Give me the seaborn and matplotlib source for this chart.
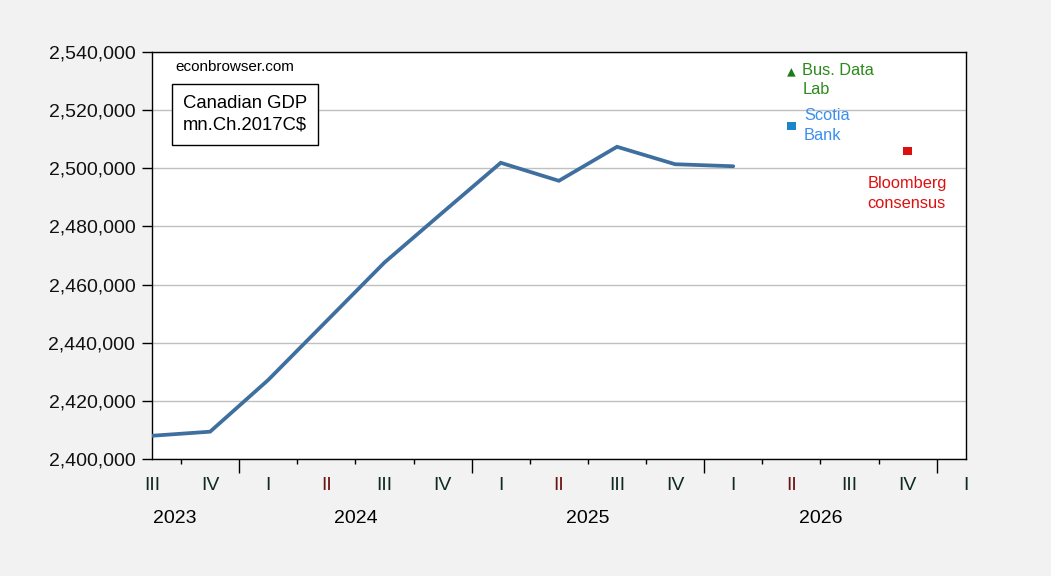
import matplotlib
matplotlib.use("Agg")
import matplotlib.pyplot as plt
import matplotlib.transforms as mtransforms
from matplotlib.ticker import FuncFormatter, FixedLocator
import numpy as np
import pandas as pd
import seaborn as sns

# ---------------- data ----------------
quarter_labels = ['III', 'IV', 'I', 'II', 'III', 'IV', 'I', 'II', 'III', 'IV', 'I', 'II', 'III', 'IV', 'I']
year_labels = ['2023', '2024', '2025', '2026']
year_label_pos = [0.4, 3.5, 7.5, 11.5]          # quarter-index positions of year labels
year_boundaries = [1.5, 5.5, 9.5, 13.5]          # between Q4 and Q1

gdp = [2408000, 2409400, 2427200, 2447400, 2467600, 2484800,
       2501900, 2495700, 2507400, 2501400, 2500700]
gdp_q = list(range(len(gdp)))                    # 0 = 2023Q3

forecast_names = ['Bus. Data\nLab', 'Scotia\nBank', 'Bloomberg\nconsensus']
forecast_q = [11, 11, 13]
forecast_values = [2533000, 2514500, 2505900]

y_ticks = list(range(2400000, 2540001, 20000))

# ---------------- styles ----------------
line_color = '#3f6f9e'
forecast_markers = ['^', 's', 's']
forecast_marker_colors = ['#1f7a1f', '#1a86c8', '#dd1010']
forecast_text_colors = ['#2a8a1a', '#3a8ff0', '#dd1010']
forecast_offsets = [(8, 7), (9, 13), (-29, -18)]   # points

sns.set_style('white')
plt.rcParams['font.family'] = ['Liberation Sans', 'DejaVu Sans']

fig = plt.figure(figsize=(10.51, 5.76), dpi=100)
fig.patch.set_facecolor('#f2f2f2')
ax = fig.add_axes([0.1446, 0.2031, 0.7743, 0.7066])
ax.set_facecolor('white')

df = pd.DataFrame({'q': gdp_q, 'gdp': gdp})
sns.lineplot(data=df, x='q', y='gdp', ax=ax, color=line_color, linewidth=2.7,
             solid_joinstyle='miter', zorder=3)

fdf = pd.DataFrame({'q': forecast_q, 'v': forecast_values, 'name': forecast_names})
for i, row in fdf.iterrows():
    sns.scatterplot(x=[row['q']], y=[row['v']], ax=ax, marker=forecast_markers[i],
                    color=forecast_marker_colors[i], s=38, edgecolor='none',
                    linewidth=0, zorder=4)
    ax.annotate(row['name'], xy=(row['q'], row['v']), xytext=forecast_offsets[i],
                textcoords='offset points', ha='left', va='top',
                fontsize=11.8, color=forecast_text_colors[i], linespacing=1.4)

ax.set_xlim(0, 14)
ax.set_ylim(2400000, 2540000)
ax.set_xlabel('')
ax.set_ylabel('')

# y axis
ax.yaxis.set_major_locator(FixedLocator(y_ticks))
ax.yaxis.set_major_formatter(FuncFormatter(lambda v, p: f'{int(round(v)):,}'))
ax.tick_params(axis='y', which='major', direction='out', length=7, width=1,
               color='black', labelsize=14, pad=5, left=True, right=False,
               labelcolor='#111111')
ax.grid(axis='y', color='#c0c0c0', linewidth=1)
ax.grid(axis='x', visible=False)

# x axis ticks: long at year boundaries, short at other quarter boundaries
half_positions = [q + 0.5 for q in range(14)]
minor_positions = [h for h in half_positions if h not in year_boundaries]
ax.xaxis.set_major_locator(FixedLocator(year_boundaries))
ax.xaxis.set_minor_locator(FixedLocator(minor_positions))
ax.tick_params(axis='x', which='major', direction='out', length=10, width=1,
               color='black', labelbottom=False, bottom=True)
ax.tick_params(axis='x', which='minor', direction='out', length=3.5, width=1,
               color='black', labelbottom=False, bottom=True)

for s in ax.spines.values():
    s.set_visible(True)
    s.set_color('black')
    s.set_linewidth(1)

trans = mtransforms.blended_transform_factory(ax.transData, ax.transAxes)
for i, lab in enumerate(quarter_labels):
    col = '#6a1414' if lab == 'II' else '#0f2a22'
    ax.text(i, -0.064, lab, transform=trans, ha='center', va='center',
            fontsize=14, color=col, clip_on=False)
for pos, lab in zip(year_label_pos, year_labels):
    ax.text(pos, -0.147, lab, transform=trans, ha='center', va='center',
            fontsize=14, color='black', clip_on=False)

ax.text(0.0283, 0.963, 'econbrowser.com', transform=ax.transAxes, ha='left',
        va='center', fontsize=11, color='black')
ax.text(0.0377, 0.895, 'Canadian GDP\nmn.Ch.2017C$', transform=ax.transAxes,
        ha='left', va='top', fontsize=13.3, color='black', linespacing=1.4,
        bbox=dict(boxstyle='square,pad=0.6', facecolor='white',
                  edgecolor='black', linewidth=1))

fig.savefig('out.png', dpi=100, facecolor=fig.get_facecolor())
